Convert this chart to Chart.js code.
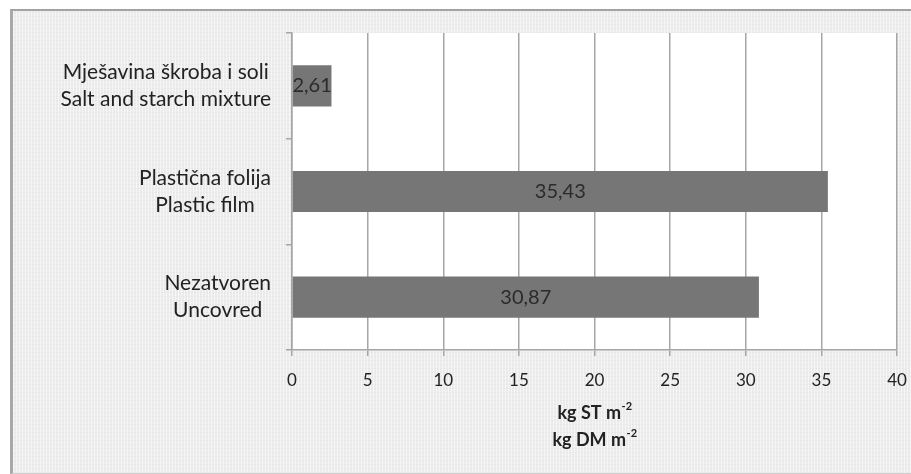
<!DOCTYPE html>
<html>
<head>
<meta charset="utf-8">
<script src="https://cdn.jsdelivr.net/npm/chart.js@4"></script>
<style>
  html, body { margin: 0; padding: 0; background: #ffffff; }
  #wrap { position: relative; width: 911px; height: 474px; overflow: hidden; }
  #frame {
    position: absolute; left: 10px; top: 9px; width: 920px; height: 462px;
    border-top: 2px solid #a3a3a3; border-left: 3px solid #a8a8a8;
    border-bottom: 1px solid #cfcfcf;
    background-color: #ececec;
    background-image:
      repeating-linear-gradient(90deg, rgba(255,255,255,0.55) 0 1px, rgba(0,0,0,0) 1px 3px),
      repeating-linear-gradient(0deg, rgba(0,0,0,0.025) 0 1px, rgba(0,0,0,0) 1px 4px);
  }
  canvas { position: absolute; left: 0; top: 0; }
</style>
</head>
<body>
<div id="wrap">
  <div id="frame"></div>
  <canvas id="c" width="911" height="474"></canvas>
</div>
<script>
// Dry matter yield per covering method
const categories = [
  ["Mješavina škroba i soli", "Salt and starch mixture"],
  ["Plastična folija", "Plastic film"],
  ["Nezatvoren", "Uncovred"]
];
const values = [2.61, 35.43, 30.87];
const xTicks = [0, 5, 10, 15, 20, 25, 30, 35, 40];
const titleLines = [["kg ST m", "-2"], ["kg DM m", "-2"]];

const FONT = 'Lato, "Open Sans", sans-serif';
const fmt = v => v.toFixed(2).replace('.', ',');

// white plot area
const plotBg = {
  id: 'plotBg',
  beforeDraw(chart) {
    const a = chart.chartArea, ctx = chart.ctx;
    ctx.save();
    ctx.fillStyle = '#ffffff';
    ctx.fillRect(a.left, a.top, a.right - a.left, a.bottom - a.top);
    ctx.restore();
  }
};

// category labels: lines centred within a right-aligned block
const catLabels = {
  id: 'catLabels',
  afterDraw(chart) {
    const ctx = chart.ctx, y = chart.scales.y;
    ctx.save();
    ctx.font = '21px ' + FONT;
    ctx.fillStyle = '#222222';
    ctx.textAlign = 'center';
    ctx.textBaseline = 'middle';
    const lh = 27, right = 271;
    categories.forEach((lines, i) => {
      const cy = y.getPixelForTick(i);
      const w = Math.max(...lines.map(l => ctx.measureText(l).width));
      const cx = right - w / 2;
      lines.forEach((l, k) => {
        ctx.fillText(l, cx, cy + (k - (lines.length - 1) / 2) * lh);
      });
    });
    ctx.restore();
  }
};

// value labels inside bars
const valueLabels = {
  id: 'valueLabels',
  afterDatasetsDraw(chart) {
    const ctx = chart.ctx, meta = chart.getDatasetMeta(0);
    ctx.save();
    ctx.font = '20px ' + FONT;
    ctx.fillStyle = '#2b2b2b';
    ctx.textAlign = 'center';
    ctx.textBaseline = 'middle';
    meta.data.forEach((bar, i) => {
      const p = bar.getProps(['x', 'y', 'base'], true);
      ctx.fillText(fmt(values[i]), (p.x + p.base) / 2, p.y);
    });
    ctx.restore();
  }
};

// x axis title with superscript exponent
const axisTitle = {
  id: 'axisTitle',
  afterDraw(chart) {
    const ctx = chart.ctx, a = chart.chartArea;
    const cx = (a.left + a.right) / 2;
    const ys = [413, 440];
    ctx.save();
    ctx.fillStyle = '#222222';
    ctx.textBaseline = 'middle';
    titleLines.forEach((parts, k) => {
      ctx.font = 'bold 18px ' + FONT;
      const w1 = ctx.measureText(parts[0]).width;
      ctx.font = 'bold 11px ' + FONT;
      const w2 = ctx.measureText(parts[1]).width;
      const x0 = cx - (w1 + w2) / 2;
      ctx.textAlign = 'left';
      ctx.font = 'bold 18px ' + FONT;
      ctx.fillText(parts[0], x0, ys[k]);
      ctx.font = 'bold 11px ' + FONT;
      ctx.fillText(parts[1], x0 + w1 + 0.5, ys[k] - 7);
    });
    ctx.restore();
  }
};

new Chart(document.getElementById('c'), {
  type: 'bar',
  data: {
    labels: categories,
    datasets: [{
      data: values,
      backgroundColor: '#767676',
      borderWidth: 0,
      categoryPercentage: 1,
      barPercentage: 0.39
    }]
  },
  options: {
    indexAxis: 'y',
    responsive: false,
    animation: false,
    events: [],
    layout: { padding: { top: 33, right: 14, bottom: 0, left: 0 } },
    plugins: { legend: { display: false }, tooltip: { enabled: false } },
    scales: {
      x: {
        min: xTicks[0],
        max: xTicks[xTicks.length - 1],
        afterBuildTicks(scale) { scale.ticks = xTicks.map(v => ({ value: v })); },
        afterFit(scale) {
          scale.height = 124;
          scale.paddingLeft = 0;
          scale.paddingRight = 0;
        },
        grid: { color: '#a6a6a6', lineWidth: 1.5, drawTicks: true, tickLength: 6 },
        border: { color: '#a6a6a6', width: 1.5 },
        ticks: {
          font: { family: FONT, size: 17 },
          color: '#222222',
          padding: 14,
          maxRotation: 0,
          callback: v => String(v)
        }
      },
      y: {
        afterFit(scale) { scale.width = 292; },
        grid: { offset: true, drawOnChartArea: false, drawTicks: true, tickLength: 6, color: '#a6a6a6', lineWidth: 1.5 },
        border: { color: '#a6a6a6', width: 1.5 },
        ticks: { display: false }
      }
    }
  },
  plugins: [plotBg, catLabels, valueLabels, axisTitle]
});
</script>
</body>
</html>
